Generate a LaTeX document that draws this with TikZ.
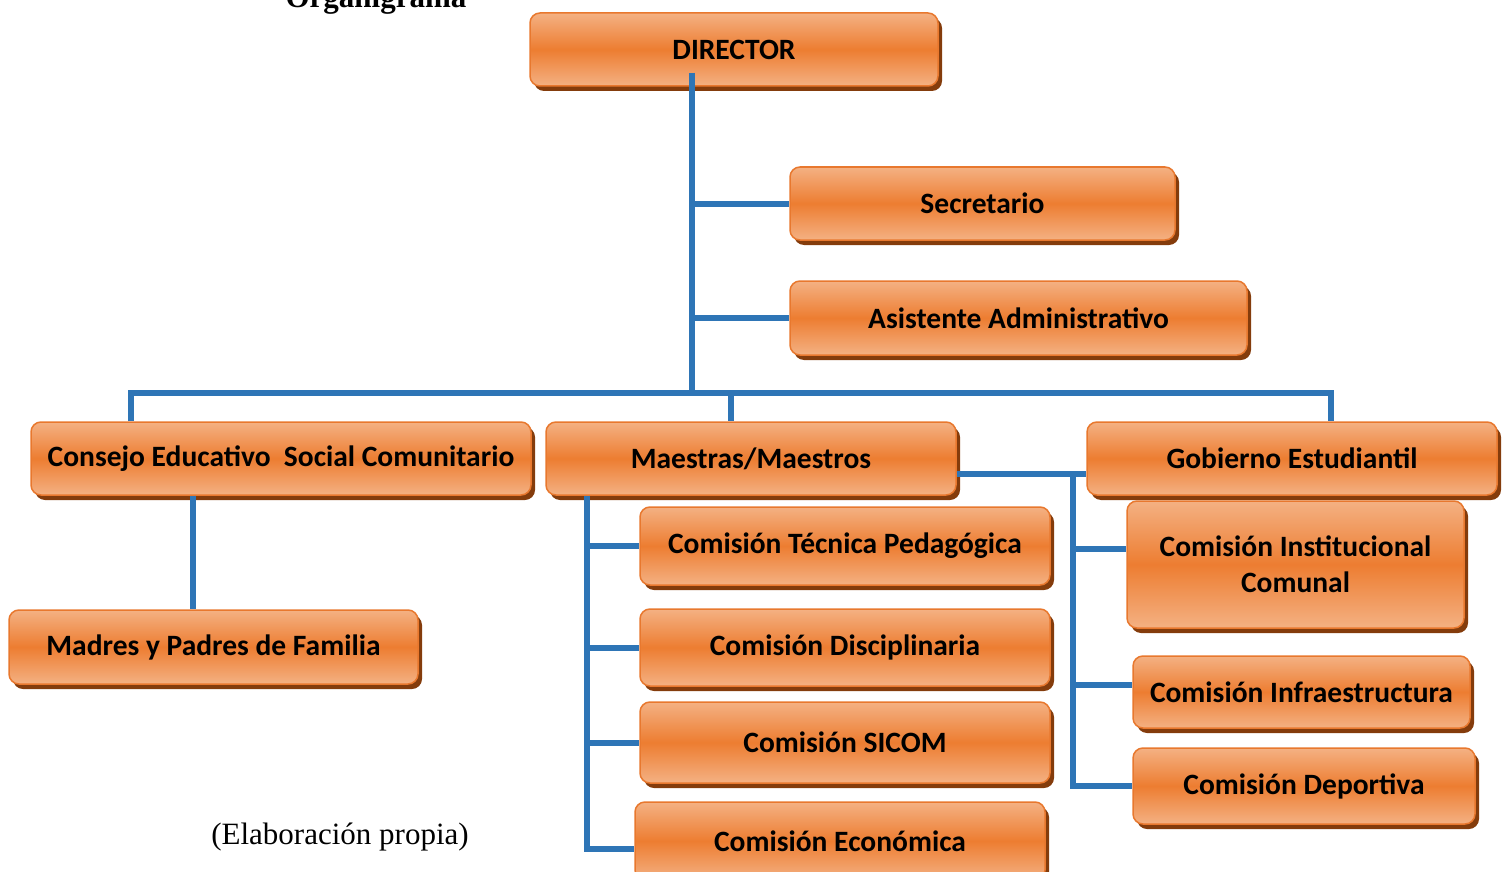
\documentclass[tikz,border=0pt]{standalone}
\usepackage{fontspec}
\setmainfont{Carlito}
\newfontfamily\serifcap{Liberation Serif}
\usetikzlibrary{shadows}
\definecolor{boxmain}{HTML}{ED7D31}
\definecolor{boxlight}{HTML}{F4B183}
\definecolor{boxedge}{HTML}{E8782E}
\definecolor{boxshadow}{HTML}{843C0C}
\definecolor{linkblue}{HTML}{2E75B6}

\begin{document}
\begin{tikzpicture}[x=1pt,y=-1pt,
  box/.style={draw=boxedge, line width=1.5pt, rounded corners=10pt,
    top color=boxlight, bottom color=boxlight, middle color=boxmain,
    drop shadow={shadow xshift=4pt, shadow yshift=-5pt, fill=boxshadow, opacity=1},
    font=\bfseries\fontsize{29.5}{36}\selectfont, align=center, inner sep=0pt},
  link/.style={draw=linkblue, line width=6pt}]
\useasboundingbox (0,0) rectangle (1510,872);

% titles
\node[font=\serifcap\bfseries\fontsize{31}{36}\selectfont, anchor=base] (titulo) at (376,8) {Organigrama};
\node[font=\serifcap\fontsize{31}{36}\selectfont] (fuente) at (340,837) {(Elaboración propia)};

% boxes
\node[box, minimum width=408pt, minimum height=73pt] (director) at (734,49.5) {DIRECTOR};
\node[box, minimum width=385pt, minimum height=73pt] (secretario) at (982.5,203.5) {Secretario};
\node[box, minimum width=457pt, minimum height=74pt] (asistente) at (1018.5,318) {Asistente Administrativo};
\node[box, minimum width=500pt, minimum height=73pt] (consejo) at (281,458.5) {Consejo Educativo~ Social Comunitario};
\node[box, minimum width=410pt, minimum height=73pt] (maestras) at (751,458.5) {Maestras/Maestros};
\node[box, minimum width=410pt, minimum height=73pt] (gobierno) at (1292,458.5) {Gobierno Estudiantil};
\node[box, minimum width=409pt, minimum height=74pt] (madres) at (213.5,647) {Madres y Padres de Familia};
\node[box, minimum width=410pt, minimum height=78pt] (tecnica) at (845,546) {Comisión Técnica Pedagógica};
\node[box, minimum width=410pt, minimum height=77pt] (disciplinaria) at (845,647.5) {Comisión Disciplinaria};
\node[box, minimum width=410pt, minimum height=81pt] (sicom) at (845,742.5) {Comisión SICOM};
\node[box, minimum width=410pt, minimum height=78pt] (economica) at (840,841) {Comisión Económica};
\node[box, minimum width=337pt, minimum height=127pt] (institucional) at (1295.5,564.5) {Comisión Institucional\\Comunal};
\node[box, minimum width=337pt, minimum height=72pt] (infraestructura) at (1301.5,692) {Comisión Infraestructura};
\node[box, minimum width=342pt, minimum height=76pt] (deportiva) at (1304,786) {Comisión Deportiva};

% junctions
\coordinate (dirjoint) at (692,393);
\coordinate (busL) at (131,393);
\coordinate (busM) at (731,393);
\coordinate (busR) at (1331,393);
\coordinate (famx) at (193,0);
\coordinate (mx) at (587,0);
\coordinate (gx) at (1073,0);

% connectors
\draw[link] ([yshift=14pt]director.south -| dirjoint) -- (dirjoint);
\draw[link] (secretario.west -| dirjoint) -- (secretario.west);
\draw[link] (asistente.west -| dirjoint) -- (asistente.west);
\draw[link] (consejo.north -| busL) -- (busL) -- (busR) -- (gobierno.north -| busR);
\draw[link] (busM) -- (maestras.north -| busM);
\draw[link] (consejo.south -| famx) -- (madres.north -| famx);
\draw[link] (maestras.south -| mx) -- ([yshift=-8pt]economica.west -| mx) -- ([yshift=-8pt]economica.west);
\foreach \n in {tecnica,disciplinaria,sicom} {\draw[link] (\n.west -| mx) -- (\n.west);}
\draw[link] ([yshift=-15pt]maestras.east) -- ([yshift=-15pt]gobierno.west);
\draw[link] ([yshift=-15pt]maestras.east -| gx) -- (deportiva.west -| gx) -- (deportiva.west);
\draw[link] ([yshift=16pt]institucional.west -| gx) -- ([yshift=16pt]institucional.west);
\draw[link] ([yshift=7pt]infraestructura.west -| gx) -- ([yshift=7pt]infraestructura.west);
\end{tikzpicture}
\end{document}
